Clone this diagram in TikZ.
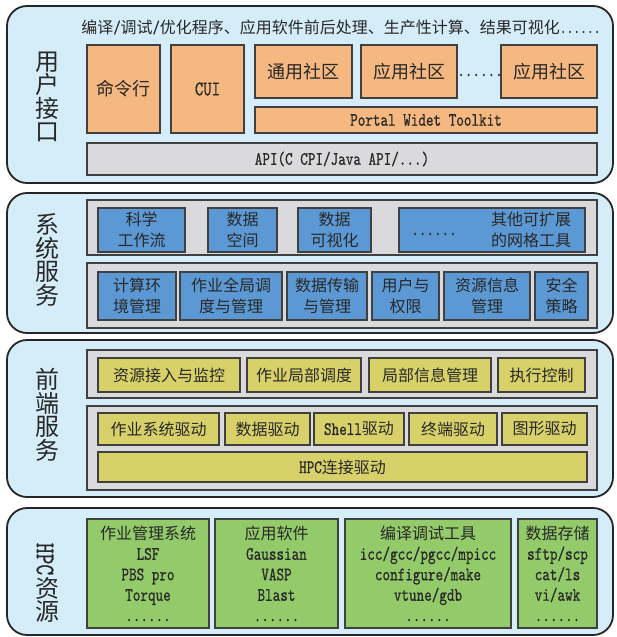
\documentclass[tikz,border=0pt]{standalone}
\usepackage{fontspec}
\setmainfont{Noto Sans CJK SC}
\newfontfamily\lat[FakeStretch=0.76,FakeBold=0.6]{lmmono10-regular.otf}
\newcommand\lt[1]{{\fontsize{19}{20.5}\selectfont\lat #1}}
\definecolor{bgblue}{RGB}{212,237,248}
\definecolor{orbox}{RGB}{244,184,128}
\definecolor{gybox}{RGB}{218,218,220}
\definecolor{blbox}{RGB}{92,153,212}
\definecolor{ylbox}{RGB}{216,209,106}
\definecolor{grbox}{RGB}{147,202,106}
\definecolor{txt}{RGB}{40,40,40}
\newcommand\mybox[7]{\node[#2, minimum width={(#5-#3)*1pt}, minimum height={(#6-#4)*1pt}] (#1) at ({(#3+#5)/2},{(#4+#6)/2}) {#7};}
\tikzset{
  layer/.style={draw=black!85, line width=1.8pt, rounded corners=20pt, fill=bgblue, inner sep=0pt},
  boxbase/.style={draw=black!75, line width=1.1pt, inner sep=0pt, text=txt, align=center},
  panel/.style={boxbase, fill=gybox},
  ob/.style={boxbase, fill=orbox, font=\fontsize{18}{22}\selectfont},
  gb/.style={boxbase, fill=gybox, font=\fontsize{17}{20}\selectfont},
  bb/.style={boxbase, fill=blbox, font=\fontsize{16}{21}\selectfont},
  yb/.style={boxbase, fill=ylbox, font=\fontsize{16}{20}\selectfont},
  gr/.style={boxbase, fill=grbox, font=\fontsize{16}{20.5}\selectfont},
  lbl/.style={text=txt, align=center, inner sep=0pt, font=\fontsize{24}{23.5}\selectfont},
  plain/.style={text=txt, inner sep=0pt, align=center}
}
\begin{document}
\begin{tikzpicture}[x=1pt,y=-1pt]
\useasboundingbox (0,0) rectangle (616,637);
% ---------------- Layer 1
\mybox{L1}{layer}{7}{6}{613}{183}{}
\node[lbl] (l1) at (47,97) {用\\户\\接\\口};
\node[plain, font=\fontsize{16}{20}\selectfont] (top) at (341,27) {编译{\fontsize{18}{20}\selectfont\lat/}调试{\fontsize{18}{20}\selectfont\lat/}优化程序、应用软件前后处理、生产性计算、结果可视化{\fontsize{17}{20}\selectfont\lat ......}};
\mybox{cmd}{ob}{87}{45}{160}{133}{命令行}
\mybox{cui}{ob}{171}{45}{244}{133}{{\fontsize{21}{22}\selectfont\lat CUI}}
\mybox{com1}{ob}{255}{45}{352}{98}{通用社区}
\mybox{com2}{ob}{361}{45}{457}{98}{应用社区}
\node[plain] (cdots) at (480,75) {\lt{......}};
\mybox{com3}{ob}{501}{45}{597}{98}{应用社区}
\mybox{portal}{ob}{255}{107}{597}{133}{\lt{Portal Widet Toolkit}}
\mybox{api}{gb}{87}{143}{597}{175}{\lt{API(C CPI/Java API/...)}}
% ---------------- Layer 2
\mybox{L2}{layer}{7}{193}{613}{333}{}
\node[lbl] (l2) at (47,260) {系\\统\\服\\务};
\mybox{p21}{panel}{87}{200}{597}{255}{}
\mybox{p22}{panel}{87}{263}{597}{328}{}
\mybox{sci}{bb}{98}{208}{185}{252}{科学\\工作流}
\mybox{dsp}{bb}{208}{208}{277}{252}{数据\\空间}
\mybox{dvis}{bb}{298}{208}{371}{252}{数据\\可视化}
\mybox{oth}{bb}{399}{208}{585}{252}{}
\node[plain] (odots) at (434,234) {\lt{......}};
\node[plain, font=\fontsize{16}{21}\selectfont] (otxt) at (531,230) {其他可扩展\\的网格工具};
\mybox{env}{bb}{98}{272}{176}{320}{计算环\\境管理}
\mybox{job}{bb}{180}{272}{282}{320}{作业全局调\\度与管理}
\mybox{dtr}{bb}{287}{272}{367}{320}{数据传输\\与管理}
\mybox{usr}{bb}{372}{272}{439}{320}{用户与\\权限}
\mybox{res}{bb}{444}{272}{530}{320}{资源信息\\管理}
\mybox{sec}{bb}{535}{272}{588}{320}{安全\\策略}
% ---------------- Layer 3
\mybox{L3}{layer}{7}{340}{613}{497}{}
\node[lbl] (l3) at (47,415) {前\\端\\服\\务};
\mybox{p31}{panel}{87}{350}{597}{398}{}
\mybox{p32}{panel}{87}{406}{597}{490}{}
\mybox{acc}{yb}{98}{358}{240}{392}{资源接入与监控}
\mybox{lsch}{yb}{247}{358}{361}{392}{作业局部调度}
\mybox{linf}{yb}{369}{358}{491}{392}{局部信息管理}
\mybox{exe}{yb}{498}{358}{585}{392}{执行控制}
\mybox{drv1}{yb}{98}{413}{219}{445}{作业系统驱动}
\mybox{drv2}{yb}{225}{413}{310}{445}{数据驱动}
\mybox{drv3}{yb}{314}{413}{404}{445}{\lt{Shell}驱动}
\mybox{drv4}{yb}{409}{413}{497}{445}{终端驱动}
\mybox{drv5}{yb}{502}{413}{587}{445}{图形驱动}
\mybox{hpcd}{yb}{98}{452}{587}{482}{\lt{HPC}连接驱动}
% ---------------- Layer 4
\mybox{L4}{layer}{7}{508}{613}{635}{}
\node[plain, rotate=-90, font=\fontsize{27}{27}\selectfont\lat] (l4a) at (45,559) {HPC};
\node[lbl] (l4b) at (47,600) {资\\源};
\mybox{g1}{gr}{87}{519}{209}{628}{作业管理系统\\\lt{LSF}\\\lt{PBS pro}\\\lt{Torque}\\\lt{......}}
\mybox{g2}{gr}{215}{519}{338}{628}{应用软件\\\lt{Gaussian}\\\lt{VASP}\\\lt{Blast}\\\lt{......}}
\mybox{g3}{gr}{345}{519}{511}{628}{编译调试工具\\\lt{icc/gcc/pgcc/mpicc}\\\lt{configure/make}\\\lt{vtune/gdb}\\\lt{......}}
\mybox{g4}{gr}{518}{519}{597}{628}{数据存储\\\lt{sftp/scp}\\\lt{cat/ls}\\\lt{vi/awk}\\\lt{......}}
\end{tikzpicture}
\end{document}
